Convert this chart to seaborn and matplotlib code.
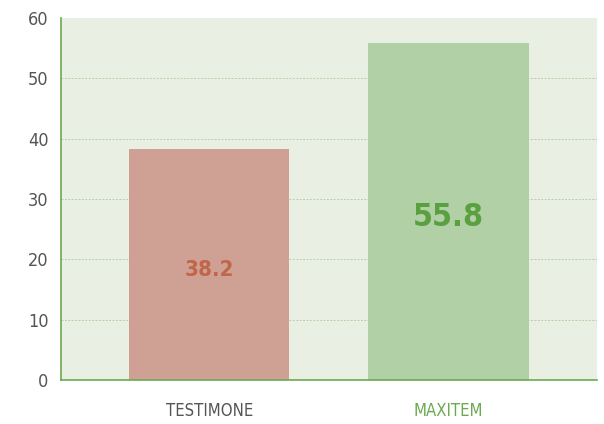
import matplotlib
matplotlib.use("Agg")
import matplotlib.pyplot as plt
import seaborn as sns
import pandas as pd

# Data
products = ['TESTIMONE', 'MAXITEM']
values = [38.2, 55.8]
bar_colors = ['#cfa194', '#b1d0a6']
label_colors = ['#c0664a', '#5aa040']
label_sizes = [16, 23]
tick_colors = ['#555555', '#6aaa50']

sns.set_style("white")
plt.rcParams['font.family'] = ['DejaVu Sans']
plt.rcParams['font.stretch'] = 'condensed'

df = pd.DataFrame({'product': products, 'value': values})

fig = plt.figure(figsize=(6.04, 4.24), dpi=100)
ax = fig.add_axes([0.101, 0.104, 0.887, 0.854])
ax.set_facecolor('#e9efe3')

sns.barplot(data=df, x='product', y='value', hue='product', palette=bar_colors,
            width=0.67, legend=False, saturation=1, linewidth=0, ax=ax, zorder=2)

ax.set_ylim(0, 60)
ax.set_xlim(-0.62, 1.62)
ax.set_yticks(range(0, 61, 10))
ax.yaxis.grid(True, linestyle=(0, (2, 1.5)), color='#b5d1a8', linewidth=0.7)
for line in ax.get_ygridlines():
    line.set_zorder(3)
ax.get_ygridlines()[-1].set_visible(False)

for i, (v, c, s) in enumerate(zip(values, label_colors, label_sizes)):
    ax.annotate(f"{v}", (i, v / 2), xytext=(0, -4), textcoords='offset points',
                ha='center', va='center', color=c, fontsize=s, fontweight='bold',
                fontstretch='condensed')

ax.set_xlabel('')
ax.set_ylabel('')
ax.tick_params(axis='y', labelsize=13, labelcolor='#555555', length=0, pad=9)
ax.tick_params(axis='x', labelsize=12, length=0, pad=16)
for lbl, c in zip(ax.get_xticklabels(), tick_colors):
    lbl.set_color(c)

for side in ['top', 'right']:
    ax.spines[side].set_visible(False)
for side in ['left', 'bottom']:
    ax.spines[side].set_color('#6aaa50')
    ax.spines[side].set_linewidth(1.2)

fig.savefig('out.png', dpi=100)
